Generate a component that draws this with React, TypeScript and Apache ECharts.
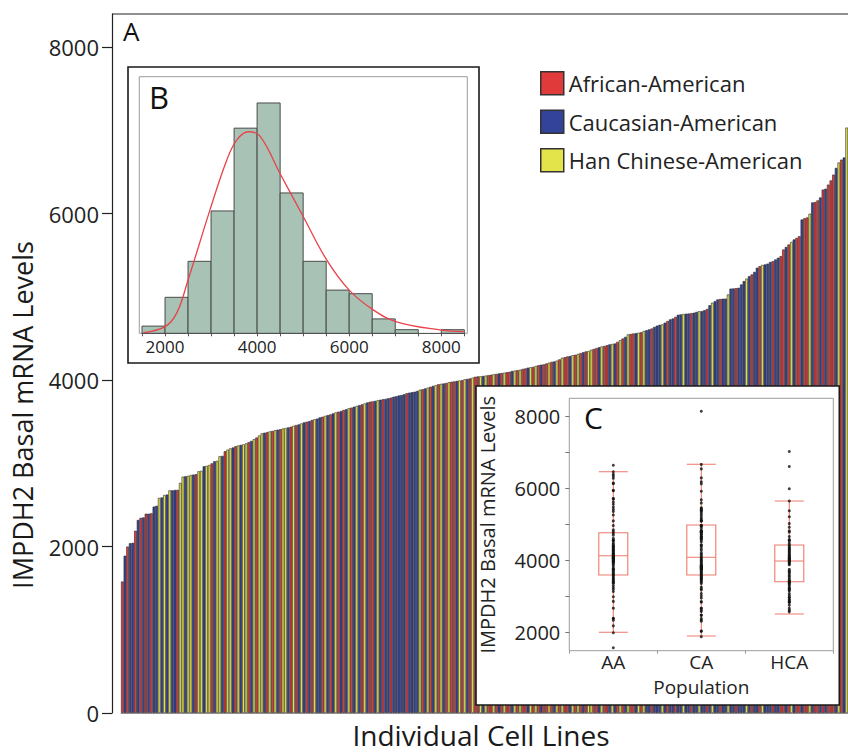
import React, { useEffect, useRef } from "react";
import * as echarts from "echarts";

const FONT = "'Open Sans', 'Noto Sans', sans-serif";

// ---- Panel A: sorted basal mRNA level of every visible cell line ----
const cellValues = [
  1580, 1890, 2000, 2040, 2045, 2190, 2320, 2345, 2350, 2395,
  2395, 2400, 2480, 2490, 2585, 2590, 2620, 2625, 2675, 2676,
  2680, 2682, 2765, 2840, 2845, 2850, 2860, 2865, 2870, 2905,
  2910, 2965, 2970, 2980, 3000, 3025, 3030, 3085, 3090, 3145,
  3165, 3180, 3190, 3205, 3215, 3222, 3228, 3240, 3255, 3270,
  3290, 3310, 3335, 3360, 3368, 3375, 3384, 3390, 3398, 3405,
  3410, 3418, 3425, 3432, 3440, 3452, 3460, 3468, 3480, 3492,
  3500, 3508, 3521, 3530, 3538, 3552, 3560, 3571, 3580, 3588,
  3600, 3612, 3620, 3628, 3641, 3650, 3662, 3670, 3681, 3690,
  3700, 3709, 3720, 3731, 3740, 3745, 3751, 3758, 3765, 3770,
  3775, 3782, 3790, 3800, 3806, 3815, 3821, 3830, 3842, 3850,
  3855, 3861, 3870, 3885, 3890, 3900, 3910, 3920, 3931, 3940,
  3950, 3955, 3960, 3966, 3975, 3980, 3985, 3990, 3995, 4000,
  4010, 4015, 4020, 4030, 4040, 4045, 4046, 4050, 4055, 4060,
  4065, 4070, 4075, 4080, 4085, 4090, 4095, 4100, 4110, 4115,
  4120, 4125, 4135, 4140, 4150, 4155, 4160, 4170, 4180, 4185,
  4190, 4200, 4210, 4220, 4225, 4235, 4250, 4270, 4275, 4285,
  4290, 4300, 4305, 4315, 4325, 4335, 4345, 4350, 4365, 4375,
  4385, 4395, 4405, 4410, 4420, 4430, 4435, 4440, 4460, 4480,
  4500, 4520, 4550, 4555, 4560, 4565, 4570, 4575, 4590, 4600,
  4610, 4620, 4640, 4655, 4665, 4670, 4690, 4710, 4730, 4740,
  4760, 4785, 4790, 4795, 4798, 4800, 4805, 4810, 4820, 4828,
  4830, 4840, 4855, 4900, 4930, 4950, 4970, 4975, 4978, 4980,
  5030, 5100, 5102, 5105, 5110, 5150, 5190, 5220, 5250, 5270,
  5300, 5350, 5370, 5385, 5390, 5400, 5420, 5430, 5450, 5470,
  5490, 5570, 5600, 5630, 5660, 5690, 5710, 5730, 5930, 5945,
  5955, 6000, 6135, 6140, 6160, 6195, 6290, 6300, 6350, 6400,
  6470, 6550, 6615, 6650, 6675, 7035,
];

// R = African-American, B = Caucasian-American, Y = Han Chinese-American
const cellPopulation =
  "RBRBBRBRBR" + "BRBBYBYBYB" + "BRYYBYYBRY" + "YBYYRBYYBR" + "YYBRYBYYRB" +
  "YRYYBRYRYB" + "RYYBRYRBYB" + "RBRYBBRYBR" + "BYRBRBYRBY" + "BRYBRRBYBR" +
  "BBRBBBBBRB" + "BBBYRBYRBY" + "RYBRYRRBYR" + "YBRYRRYBYR" + "RYRBRYRRBY" +
  "RYRRBYRYRB" + "RRYRBYRYRR" + "BYRYRBRYYR" + "RBYRRBYBRY" + "RBYRRBYRYB" +
  "BRBBBYBRBB" + "RBBYBBRBBY" + "BBRBYBBRBB" + "YBBRBBBYBR" + "BBRYBBBRBB" +
  "RRBRYBRRBR" + "RYBRRBRBRR" + "RBYRBY";

const populationCodes = ["R", "B", "Y"];
const populationNames = ["African-American", "Caucasian-American", "Han Chinese-American"];
const populationColors = ["#e03a3a", "#33439a", "#e3e34a"];
const mainYTicks = [0, 2000, 4000, 6000, 8000];

// ---- Panel B: histogram ----
const histBinStart = [1500, 2000, 2500, 3000, 3500, 4000, 4500, 5000, 5500, 6000, 6500, 7000, 7500, 8000];
const histBinWidth = 500;
const histCounts = [2, 10, 20, 34, 57, 64, 39, 20, 12, 11, 4, 1, 0, 1];
const curveX = [1530, 2000, 2253, 2500, 2977, 3340, 3557, 3809, 4063, 4497, 5004, 5511, 6000, 6523, 7030, 8000, 8478];
const curveY = [0.2, 1.85, 5.6, 14.8, 34.3, 48.1, 53.7, 56.0, 54.8, 44.4, 32.4, 20.4, 12.0, 6.5, 3.2, 0.9, 0.5];
const histLabelTicks = [2000, 4000, 6000, 8000];
const histTicks = [1500, 2000, 2500, 3000, 3500, 4000, 4500, 5000, 5500, 6000, 6500, 7000, 7500, 8000, 8500];

// ---- Panel C: box plots ----
const boxCategories = ["AA", "CA", "HCA"];
const boxAA = [2011, 3603, 4139, 4778, 6472];
const boxCA = [1908, 3603, 4094, 4992, 6678];
const boxHCA = [2519, 3417, 3992, 4436, 5658];
const extraCAValues = [8150]; // cell line beyond the right edge of panel A
const boxYLabels = [2000, 4000, 6000, 8000];
const boxYTicks = [2000, 3000, 4000, 5000, 6000, 7000, 8000];

const plain = (v: number) => String(v);

export default function App() {
  const ref = useRef<HTMLDivElement>(null);

  useEffect(() => {
    document.body.style.margin = "0";
    if (!ref.current) return;
    const chart = echarts.init(ref.current, null, { renderer: "svg" });

    const cats = cellValues.map((_, i) => String(i + 1));
    const barSeries = populationCodes.map((code, k) => ({
      type: "bar",
      name: populationNames[k],
      xAxisIndex: 0,
      yAxisIndex: 0,
      barGap: "-100%",
      barCategoryGap: "0%",
      z: 2,
      itemStyle: { color: populationColors[k], borderColor: "#2a2a2a", borderWidth: 0.6 },
      data: cellValues.map((v, i) => (cellPopulation[i] === code ? v : "-")),
    }));

    const dots: number[][] = [];
    cellValues.forEach((v, i) => {
      dots.push([populationCodes.indexOf(cellPopulation[i]), v]);
    });
    extraCAValues.forEach((v) => dots.push([1, v]));

    const option: any = {
      animation: false,
      textStyle: { fontFamily: FONT },
      grid: [
        { left: 121, right: 0, top: 14, bottom: 41 },
        { left: 142, top: 76.7, width: 322.3, height: 256.6 },
        { left: 569.3, top: 398.7, width: 264, height: 252 },
      ],
      legend: {
        orient: "vertical",
        left: 535,
        top: 66,
        itemWidth: 23,
        itemHeight: 23,
        itemGap: 14,
        icon: "rect",
        itemStyle: { borderColor: "#333", borderWidth: 1.5 },
        textStyle: { fontSize: 22, color: "#222", fontFamily: FONT },
        data: populationNames,
      },
      xAxis: [
        {
          gridIndex: 0,
          type: "category",
          data: cats,
          axisLine: { lineStyle: { color: "#9a9a9a" } },
          axisTick: { show: false },
          axisLabel: { show: false },
          splitLine: { show: false },
        },
        {
          gridIndex: 1,
          type: "value",
          min: 1500,
          max: 8500,
          z: 6,
          axisLine: { lineStyle: { color: "#555" } },
          axisTick: { customValues: histTicks, length: 3, lineStyle: { color: "#555" } },
          axisLabel: { customValues: histLabelTicks, formatter: plain, fontSize: 17, margin: 5, color: "#222", fontFamily: FONT },
          splitLine: { show: false },
        },
        {
          gridIndex: 2,
          type: "category",
          data: boxCategories,
          z: 6,
          axisLine: { show: false },
          axisTick: { show: true, length: 3, lineStyle: { color: "#999" } },
          axisLabel: { fontSize: 19, margin: 2, color: "#222", fontFamily: FONT },
          name: "Population",
          nameLocation: "middle",
          nameGap: 27,
          nameTextStyle: { fontSize: 19, color: "#222", fontFamily: FONT },
        },
      ],
      yAxis: [
        {
          gridIndex: 0,
          type: "value",
          min: 0,
          max: 8400,
          offset: 9,
          axisLine: { show: true, lineStyle: { color: "#222", width: 1.2 } },
          axisTick: { show: true, customValues: mainYTicks, length: 10, lineStyle: { color: "#222", width: 1.2 } },
          axisLabel: { customValues: mainYTicks, formatter: plain, fontSize: 22, margin: 13, color: "#222", fontFamily: FONT },
          splitLine: { show: false },
        },
        {
          gridIndex: 1,
          type: "value",
          min: 0,
          max: 71.3,
          show: false,
        },
        {
          gridIndex: 2,
          type: "value",
          min: 1500,
          max: 8500,
          z: 6,
          axisLine: { show: false },
          axisTick: { show: true, customValues: boxYTicks, length: 4, lineStyle: { color: "#777" } },
          axisLabel: { customValues: boxYLabels, formatter: plain, fontSize: 20, margin: 9, color: "#222", fontFamily: FONT },
          splitLine: { show: false },
          name: "IMPDH2 Basal mRNA Levels",
          nameLocation: "middle",
          nameGap: 72,
          nameTextStyle: { fontSize: 20, color: "#222", fontFamily: FONT },
        },
      ],
      graphic: [
        { type: "line", z: 3, shape: { x1: 112, y1: 14, x2: 848, y2: 14 }, style: { stroke: "#222", lineWidth: 1.2 } },
        { type: "text", z: 8, x: 123, y: 31, style: { text: "A", font: `26px ${FONT}`, fill: "#111", textVerticalAlign: "middle" } },
        // inset B frames
        { type: "rect", z: 4, shape: { x: 128, y: 67, width: 351, height: 296 }, style: { fill: "#fff", stroke: "#1a1a1a", lineWidth: 1.6 } },
        { type: "rect", z: 5, shape: { x: 139.3, y: 76.7, width: 328, height: 256.6 }, style: { fill: "none", stroke: "#9c9c9c", lineWidth: 1 } },
        { type: "text", z: 8, x: 149, y: 97, style: { text: "B", font: `31px ${FONT}`, fill: "#111", textVerticalAlign: "middle" } },
        // inset C frames
        { type: "rect", z: 4, shape: { x: 476, y: 386, width: 363.3, height: 319 }, style: { fill: "#fff", stroke: "#1a1a1a", lineWidth: 1.6 } },
        { type: "rect", z: 5, shape: { x: 569.3, y: 398.3, width: 264, height: 252.4 }, style: { fill: "none", stroke: "#9c9c9c", lineWidth: 1 } },
        { type: "text", z: 8, x: 584, y: 417, style: { text: "C", font: `30px ${FONT}`, fill: "#111", textVerticalAlign: "middle" } },
        // titles
        { type: "text", z: 8, x: 481, y: 735, style: { text: "Individual Cell Lines", font: `28px ${FONT}`, fill: "#1a1a1a", textAlign: "center", textVerticalAlign: "middle" } },
        { type: "text", z: 8, x: 22, y: 415, rotation: Math.PI / 2, style: { text: "IMPDH2 Basal mRNA Levels", font: `27px ${FONT}`, fill: "#1a1a1a", textAlign: "center", textVerticalAlign: "middle" } },
      ],
      series: [
        ...barSeries,
        {
          type: "custom",
          xAxisIndex: 1,
          yAxisIndex: 1,
          z: 7,
          encode: { x: [0, 1], y: 2 },
          data: histBinStart.map((s, i) => [s, s + histBinWidth, histCounts[i]]),
          renderItem: (params: any, api: any) => {
            const c = api.value(2);
            if (!c) return null;
            const p0 = api.coord([api.value(0), c]);
            const p1 = api.coord([api.value(1), 0]);
            return {
              type: "rect",
              shape: { x: p0[0], y: p0[1], width: p1[0] - p0[0], height: p1[1] - p0[1] },
              style: { fill: "#a8c3b6", stroke: "#4a4a4a", lineWidth: 1 },
            };
          },
        },
        {
          type: "line",
          xAxisIndex: 1,
          yAxisIndex: 1,
          z: 8,
          smooth: 0.4,
          showSymbol: false,
          symbol: "none",
          lineStyle: { color: "#e8424a", width: 1.3 },
          data: curveX.map((x, i) => [x, curveY[i]]),
        },
        {
          type: "boxplot",
          xAxisIndex: 2,
          yAxisIndex: 2,
          z: 7,
          boxWidth: [29, 29],
          itemStyle: { color: "rgba(0,0,0,0)", borderColor: "#ef7a6c", borderWidth: 1.1 },
          data: [boxAA, boxCA, boxHCA],
        },
        {
          type: "scatter",
          xAxisIndex: 2,
          yAxisIndex: 2,
          z: 8,
          symbolSize: 3,
          itemStyle: { color: "#111" },
          data: dots,
        },
      ],
    };

    chart.setOption(option);
    return () => chart.dispose();
  }, []);

  return <div ref={ref} style={{ width: 848, height: 754 }} />;
}
